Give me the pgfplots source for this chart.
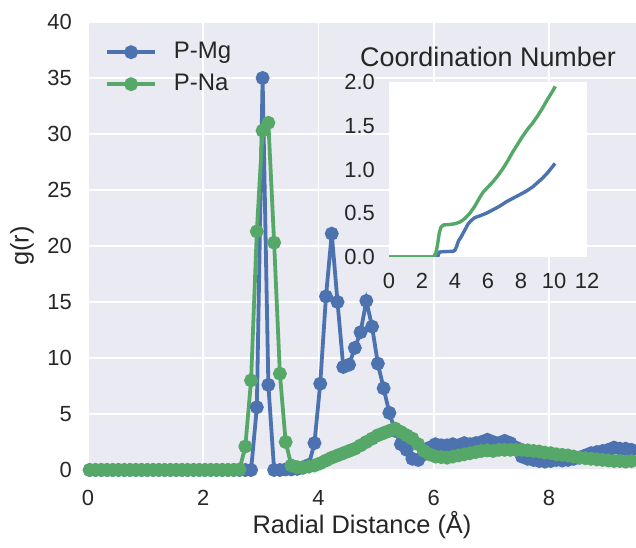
\documentclass[border=0pt]{standalone}
\usepackage{fontspec}
\setmainfont{Liberation Sans}
\usepackage{pgfplots}
\usepackage{pgfplotstable}
\pgfplotsset{compat=1.18}
\definecolor{sbblue}{HTML}{4C72B0}
\definecolor{sbgreen}{HTML}{55A868}
\definecolor{sbbg}{HTML}{EAEAF2}
\definecolor{sbtext}{HTML}{262626}

\pgfplotstableread{
r mg na
0.03 0 0
0.13 0 0
0.23 0 0
0.33 0 0
0.43 0 0
0.53 0 0
0.63 0 0
0.73 0 0
0.83 0 0
0.93 0 0
1.03 0 0
1.13 0 0
1.23 0 0
1.33 0 0
1.43 0 0
1.53 0 0
1.63 0 0
1.73 0 0
1.83 0 0
1.93 0 0
2.03 0 0
2.13 0 0
2.23 0 0
2.33 0 0
2.43 0 0
2.53 0 0
2.63 0 0.05
2.73 0 2.1
2.83 0 8.0
2.93 5.6 21.3
3.03 35.0 30.3
3.13 7.6 31.0
3.23 0 20.3
3.33 0 8.6
3.43 0.05 2.5
3.53 0.05 0.4
3.63 0.1 0.25
3.73 0.2 0.25
3.83 0.45 0.3
3.93 2.4 0.4
4.03 7.7 0.6
4.13 15.5 0.85
4.23 21.1 1.1
4.33 15.0 1.3
4.43 9.2 1.5
4.53 9.4 1.7
4.63 10.9 1.9
4.73 12.3 2.2
4.83 15.1 2.5
4.93 12.8 2.8
5.03 9.5 3.1
5.13 7.3 3.3
5.23 5.1 3.5
5.33 3.5 3.7
5.43 2.3 3.4
5.53 1.8 3.1
5.63 1.0 2.8
5.73 0.9 2.3
5.83 1.4 1.7
5.93 2.0 1.4
6.03 2.3 1.2
6.13 2.2 1.15
6.23 2.2 1.1
6.33 2.3 1.2
6.43 2.2 1.3
6.53 2.4 1.4
6.63 2.3 1.5
6.73 2.4 1.6
6.83 2.5 1.7
6.93 2.7 1.75
7.03 2.5 1.7
7.13 2.4 1.8
7.23 2.6 1.8
7.33 2.4 1.8
7.43 2.0 1.8
7.53 1.2 1.8
7.63 1.0 1.75
7.73 0.9 1.7
7.83 0.8 1.65
7.93 0.75 1.55
8.03 0.8 1.5
8.13 0.9 1.4
8.23 0.85 1.35
8.33 0.9 1.3
8.43 1.0 1.2
8.53 1.1 1.1
8.63 1.3 1.05
8.73 1.5 1.0
8.83 1.6 0.95
8.93 1.7 0.9
9.03 1.8 0.85
9.13 2.0 0.8
9.23 1.9 0.8
9.33 1.9 0.75
9.43 1.8 0.8
9.53 1.9 0.85
9.63 1.9 0.9
}\gdata

\pgfplotstableread{
r cn
0 0
2.60 0
2.73 0.005
2.85 0.05
2.95 0.15
3.05 0.28
3.15 0.34
3.30 0.366
3.60 0.37
4.00 0.38
4.30 0.40
4.60 0.44
4.90 0.50
5.20 0.58
5.50 0.68
5.70 0.74
6.00 0.80
6.30 0.86
6.60 0.93
6.90 1.01
7.20 1.10
7.50 1.20
7.80 1.29
8.10 1.38
8.40 1.46
8.70 1.53
9.00 1.61
9.30 1.70
9.60 1.80
9.90 1.89
10.08 1.95
}\cnna

\pgfplotstableread{
r cn
0 0
2.95 0
3.00 0.03
3.05 0.055
3.20 0.06
3.90 0.065
4.00 0.08
4.10 0.12
4.20 0.18
4.40 0.24
4.60 0.31
4.80 0.38
5.00 0.42
5.20 0.45
5.50 0.47
5.90 0.50
6.30 0.54
6.70 0.58
7.10 0.63
7.50 0.67
7.90 0.71
8.30 0.75
8.70 0.80
9.00 0.85
9.30 0.90
9.60 0.96
9.90 1.03
10.06 1.07
}\cnmg

\begin{document}
\begin{tikzpicture}
\useasboundingbox (-88bp,-78bp) rectangle (548bp,470bp);
\begin{axis}[
  at={(0,0)}, anchor=south west, scale only axis,
  width=548bp, height=448bp,
  xmin=0, xmax=9.51, ymin=0, ymax=40,
  xtick={0,2,4,6,8}, ytick={0,5,...,40},
  axis background/.style={fill=sbbg},
  axis line style={draw=none},
  grid=major, major grid style={white, line width=1.6bp},
  major tick length=0pt,
  /pgf/number format/assume math mode=true,
  tick label style={font=\fontsize{22}{26}\selectfont, text=sbtext, inner sep=0pt},
  xticklabel style={anchor=north, yshift=-20bp},
  yticklabel style={anchor=east, xshift=-16bp},
  xlabel={Radial Distance (Å)}, ylabel={g(r)},
  label style={font=\fontsize{25.5}{30}\selectfont, text=sbtext},
  xlabel style={at={([yshift=-63bp]axis description cs:0.5,0)}, anchor=base},
  ylabel style={at={([xshift=-66bp]axis description cs:0,0.5)}, anchor=center},
  legend cell align=left,
  legend style={draw=none, fill=none, at={([xshift=17bp,yshift=-19bp]axis description cs:0,1)}, anchor=north west,
    font=\fontsize{24}{28}\selectfont, text=sbtext, inner sep=0pt, row sep=10bp,
    nodes={inner sep=0pt, text height=17bp, text depth=5bp},
    /tikz/every odd column/.append style={column sep=17bp}},
  legend image code/.code={\draw[mark repeat=2, mark phase=2, #1] plot coordinates {(0bp,0bp) (24bp,0bp) (48bp,0bp)};},
]
\addplot[sbblue, line width=3.8bp, mark=*, mark size=5bp, mark options={fill=sbblue, draw=none}] table[x=r, y=mg] {\gdata};
\addlegendentry{P-Mg}
\addplot[sbgreen, line width=3.8bp, mark=*, mark size=5bp, mark options={fill=sbgreen, draw=none}] table[x=r, y=na] {\gdata};
\addlegendentry{P-Na}
\end{axis}
\begin{axis}[
  at={(301bp,213bp)}, anchor=south west, scale only axis,
  width=198bp, height=175bp,
  xmin=0, xmax=12, ymin=0, ymax=2,
  xtick={0,2,...,12}, ytick={0,0.5,...,2},
  axis background/.style={fill=white},
  axis line style={draw=none},
  major tick length=0pt,
  /pgf/number format/assume math mode=true,
  tick label style={font=\fontsize{22}{26}\selectfont, text=sbtext, inner sep=0pt},
  xticklabel style={anchor=north, yshift=-16bp},
  yticklabel style={anchor=east, xshift=-14bp, /pgf/number format/.cd, fixed, fixed zerofill, precision=1},
  title={Coordination Number},
  title style={font=\fontsize{27}{32}\selectfont, text=sbtext, at={([yshift=10bp]axis description cs:0.5,1)}, anchor=base},
]
\addplot[sbblue, line width=3.4bp, no marks] table[x=r, y=cn] {\cnmg};
\addplot[sbgreen, line width=3.4bp, no marks] table[x=r, y=cn] {\cnna};
\end{axis}
\end{tikzpicture}
\end{document}
